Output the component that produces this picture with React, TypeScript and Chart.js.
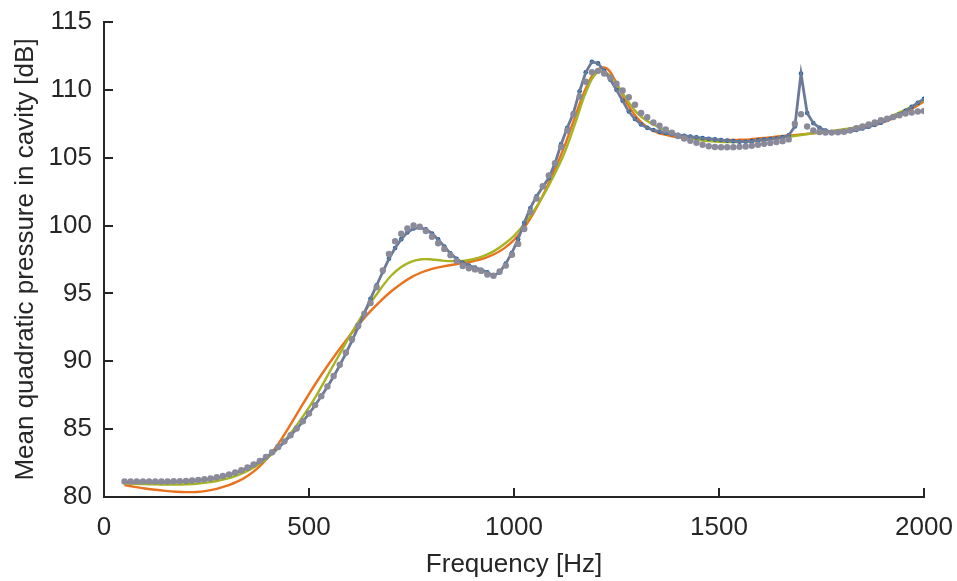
import React, { useEffect, useRef } from "react";
import { Chart, registerables } from "chart.js";

Chart.register(...registerables);

// Fine frequency grid (Hz) for the measured curve and the grey reference dots
const FREQ_FINE = [
  50, 65, 80, 95, 110, 125, 140, 155, 170, 185,
  200, 215, 230, 245, 260, 275, 290, 305, 320, 335,
  350, 365, 380, 395, 410, 425, 440, 455, 470, 485,
  500, 515, 530, 545, 560, 575, 590, 605, 620, 635,
  650, 665, 680, 695, 710, 725, 740, 755, 770, 785,
  800, 815, 830, 845, 860, 875, 890, 905, 920, 935,
  950, 965, 980, 995, 1010, 1025, 1040, 1055, 1070, 1085,
  1100, 1115, 1130, 1145, 1160, 1175, 1190, 1205, 1220, 1235,
  1250, 1265, 1280, 1295, 1310, 1325, 1340, 1355, 1370, 1385,
  1400, 1415, 1430, 1445, 1460, 1475, 1490, 1505, 1520, 1535,
  1550, 1565, 1580, 1595, 1610, 1625, 1640, 1655, 1670, 1685,
  1700, 1715, 1730, 1745, 1760, 1775, 1790, 1805, 1820, 1835,
  1850, 1865, 1880, 1895, 1910, 1925, 1940, 1955, 1970, 1985, 2000,
];

// Measured curve (blue markers + grey-blue line), dB
const MEASURED = [
  81.10, 81.10, 81.10, 81.10, 81.10, 81.10, 81.10, 81.11, 81.12, 81.13,
  81.15, 81.18, 81.22, 81.27, 81.33, 81.41, 81.50, 81.62, 81.76, 81.93,
  82.13, 82.36, 82.62, 82.92, 83.26, 83.64, 84.06, 84.52, 85.02, 85.56,
  86.14, 86.76, 87.42, 88.12, 88.88, 89.70, 90.58, 91.52, 92.52, 93.55,
  94.60, 95.60, 96.60, 97.55, 98.35, 99.00, 99.50, 99.78, 99.85, 99.72,
  99.42, 98.98, 98.45, 97.95, 97.55, 97.25, 97.05, 96.90, 96.75, 96.55,
  96.32, 96.55, 97.20, 98.00, 99.00, 100.20, 101.30, 102.15, 102.85, 103.50,
  104.60, 106.00, 107.20, 108.30, 109.90, 111.30, 112.07, 111.95, 111.40, 110.75,
  110.00, 109.20, 108.40, 107.85, 107.45, 107.20, 107.04, 106.92, 106.82, 106.74,
  106.68, 106.62, 106.56, 106.50, 106.45, 106.40, 106.35, 106.30, 106.26, 106.22,
  106.18, 106.18, 106.22, 106.28, 106.33, 106.37, 106.42, 106.50, 106.65, 107.30,
  111.20, 108.30, 107.55, 107.20, 107.00, 106.90, 106.86, 106.88, 106.95, 107.04,
  107.15, 107.28, 107.42, 107.58, 107.78, 107.98, 108.20, 108.45, 108.75, 109.05, 109.34,
];

// Grey dots, dB
const GREY_DOTS = [
  81.15, 81.15, 81.15, 81.15, 81.15, 81.15, 81.15, 81.15, 81.16, 81.17,
  81.19, 81.22, 81.26, 81.31, 81.37, 81.45, 81.55, 81.67, 81.80, 81.97,
  82.17, 82.40, 82.66, 82.96, 83.30, 83.68, 84.10, 84.55, 85.05, 85.58,
  86.15, 86.77, 87.43, 88.15, 88.92, 89.75, 90.65, 91.62, 92.62, 93.50,
  94.30, 95.45, 96.70, 97.90, 98.85, 99.40, 99.78, 100.00, 99.92, 99.60,
  99.18, 98.70, 98.28, 97.82, 97.40, 97.02, 96.85, 96.77, 96.66, 96.40,
  96.30, 96.62, 97.05, 97.85, 98.65, 99.75, 101.00, 102.00, 102.90, 103.70,
  104.60, 105.80, 107.00, 108.20, 109.50, 110.60, 111.30, 111.40, 111.20, 110.90,
  110.45, 109.95, 109.45, 108.90, 108.30, 107.98, 107.60, 107.35, 107.08, 106.85,
  106.60, 106.42, 106.25, 106.10, 105.95, 105.84, 105.79, 105.77, 105.77, 105.78,
  105.80, 105.83, 105.88, 105.95, 106.02, 106.08, 106.15, 106.22, 106.35, 107.50,
  108.20, 107.30, 107.00, 106.90, 106.85, 106.85, 106.88, 106.92, 107.03, 107.18,
  107.30, 107.45, 107.60, 107.76, 107.87, 108.00, 108.12, 108.25, 108.33, 108.40, 108.44,
];

// Coarser grid (Hz) for the two smooth model curves
const FREQ_COARSE = [
  50, 75, 100, 125, 150, 175, 200, 225, 250, 275,
  300, 325, 350, 375, 400, 425, 450, 475, 500, 525,
  550, 575, 600, 625, 650, 675, 700, 725, 750, 775,
  800, 825, 850, 875, 900, 925, 950, 975, 1000, 1025,
  1050, 1075, 1100, 1125, 1150, 1175, 1200, 1225, 1250, 1275,
  1300, 1325, 1350, 1375, 1400, 1425, 1450, 1475, 1500, 1525,
  1550, 1575, 1600, 1625, 1650, 1675, 1700, 1725, 1750, 1775,
  1800, 1825, 1850, 1875, 1900, 1925, 1950, 1975, 2000,
];

// Orange model curve, dB
const MODEL_ORANGE = [
  80.88, 80.75, 80.63, 80.53, 80.45, 80.39, 80.36, 80.37, 80.45, 80.60,
  80.83, 81.13, 81.55, 82.13, 82.91, 83.91, 85.09, 86.34, 87.59, 88.77,
  89.87, 90.92, 91.92, 92.85, 93.70, 94.46, 95.14, 95.72, 96.20, 96.56,
  96.81, 96.98, 97.11, 97.23, 97.37, 97.57, 97.87, 98.30, 98.95, 99.85,
  101.05, 102.50, 104.15, 106.00, 108.10, 110.10, 111.40, 111.60, 110.50, 109.05,
  107.95, 107.25, 106.85, 106.65, 106.50, 106.42, 106.36, 106.32, 106.30, 106.30,
  106.32, 106.35, 106.43, 106.50, 106.58, 106.65, 106.72, 106.78, 106.84, 106.90,
  106.97, 107.07, 107.20, 107.37, 107.60, 107.90, 108.25, 108.68, 109.15,
];

// Yellow-green model curve, dB
const MODEL_GREEN = [
  81.00, 80.97, 80.95, 80.93, 80.92, 80.92, 80.94, 80.98, 81.06, 81.18,
  81.36, 81.60, 81.92, 82.35, 82.90, 83.60, 84.50, 85.50, 86.60, 87.85,
  89.20, 90.55, 91.90, 93.15, 94.30, 95.35, 96.30, 96.95, 97.35, 97.52,
  97.50, 97.42, 97.38, 97.40, 97.52, 97.75, 98.10, 98.60, 99.25, 100.10,
  101.15, 102.40, 103.85, 105.50, 107.60, 109.80, 111.20, 111.25, 110.40, 109.30,
  108.30, 107.70, 107.30, 106.95, 106.70, 106.50, 106.32, 106.22, 106.17, 106.15,
  106.15, 106.20, 106.26, 106.35, 106.45, 106.56, 106.67, 106.78, 106.88, 106.98,
  107.08, 107.20, 107.36, 107.56, 107.82, 108.12, 108.48, 108.85, 109.25,
];

const X_TICKS = [0, 500, 1000, 1500, 2000];
const Y_TICKS = [80, 85, 90, 95, 100, 105, 110, 115];

const X_TITLE = "Frequency [Hz]";
const Y_TITLE = "Mean quadratic pressure in cavity [dB]";

const AXIS_COLOR = "#262626";
const FONT_FAMILY = "'Liberation Sans', Arial, Helvetica, sans-serif";
const FONT_SIZE = 26;

const toPoints = (xs: number[], ys: number[]) => xs.map((x, i) => ({ x, y: ys[i] }));

const zeroPadding = (s: any) => {
  s.paddingLeft = 0;
  s.paddingRight = 0;
  s.paddingTop = 0;
  s.paddingBottom = 0;
};

export default function App() {
  const ref = useRef<HTMLCanvasElement>(null);

  useEffect(() => {
    if (!ref.current) return;
    const chart = new Chart(ref.current, {
      type: "line",
      data: {
        datasets: [
          {
            label: "Grey dots",
            data: toPoints(FREQ_FINE, GREY_DOTS),
            showLine: false,
            pointRadius: 3.2,
            pointBackgroundColor: "#8a8a9b",
            pointBorderWidth: 0,
            borderColor: "#8a8a9b",
            order: 1,
          },
          {
            label: "Measured line",
            data: toPoints(FREQ_FINE, MEASURED),
            borderColor: "#6c7a98",
            borderWidth: 2.8,
            pointRadius: 0,
            tension: 0,
            order: 2,
          },
          {
            label: "Measured markers",
            data: toPoints(FREQ_FINE, MEASURED),
            showLine: false,
            pointRadius: 2.3,
            pointBackgroundColor: "#0b5ea8",
            pointBorderWidth: 0,
            borderColor: "#0b5ea8",
            order: 3,
          },
          {
            label: "Model green",
            data: toPoints(FREQ_COARSE, MODEL_GREEN),
            borderColor: "#a7b320",
            borderWidth: 2.4,
            pointRadius: 0,
            tension: 0.4,
            order: 4,
          },
          {
            label: "Model orange",
            data: toPoints(FREQ_COARSE, MODEL_ORANGE),
            borderColor: "#e8721e",
            borderWidth: 2.4,
            pointRadius: 0,
            tension: 0.4,
            order: 5,
          },
        ],
      },
      options: {
        animation: false,
        responsive: false,
        plugins: { legend: { display: false }, tooltip: { enabled: false } },
        layout: { padding: { left: 0, top: 22, right: 33, bottom: 0 } },
        scales: {
          x: {
            type: "linear",
            min: 0,
            max: 2000,
            afterBuildTicks: (s: any) => {
              s.ticks = X_TICKS.map((v) => ({ value: v }));
            },
            afterFit: (s: any) => {
              s.height = 84;
              zeroPadding(s);
            },
            border: { color: AXIS_COLOR, width: 2 },
            grid: {
              drawOnChartArea: false,
              drawTicks: true,
              tickLength: -9,
              color: AXIS_COLOR,
              lineWidth: 2,
            },
            ticks: {
              padding: 24,
              color: AXIS_COLOR,
              maxRotation: 0,
              font: { family: FONT_FAMILY, size: FONT_SIZE },
              callback: (v: any) => String(v),
            },
            title: {
              display: true,
              text: X_TITLE,
              color: AXIS_COLOR,
              font: { family: FONT_FAMILY, size: FONT_SIZE },
              padding: { top: 0, bottom: 1 },
            },
          },
          y: {
            type: "linear",
            min: 80,
            max: 115,
            afterBuildTicks: (s: any) => {
              s.ticks = Y_TICKS.map((v) => ({ value: v }));
            },
            afterFit: (s: any) => {
              s.width = 104;
              zeroPadding(s);
            },
            border: { color: AXIS_COLOR, width: 2 },
            grid: {
              drawOnChartArea: false,
              drawTicks: true,
              tickLength: -9,
              color: AXIS_COLOR,
              lineWidth: 2,
            },
            ticks: {
              padding: 21,
              color: AXIS_COLOR,
              font: { family: FONT_FAMILY, size: FONT_SIZE },
              callback: (v: any) => String(v),
            },
            title: {
              display: true,
              text: Y_TITLE,
              color: AXIS_COLOR,
              font: { family: FONT_FAMILY, size: FONT_SIZE },
              padding: { top: 10, bottom: 0 },
            },
          },
        },
      },
    });
    return () => chart.destroy();
  }, []);

  return (
    <div style={{ position: "fixed", left: 0, top: 0, width: 957, height: 581, background: "#fff" }}>
      <canvas ref={ref} width={957} height={581} style={{ display: "block" }} />
    </div>
  );
}
